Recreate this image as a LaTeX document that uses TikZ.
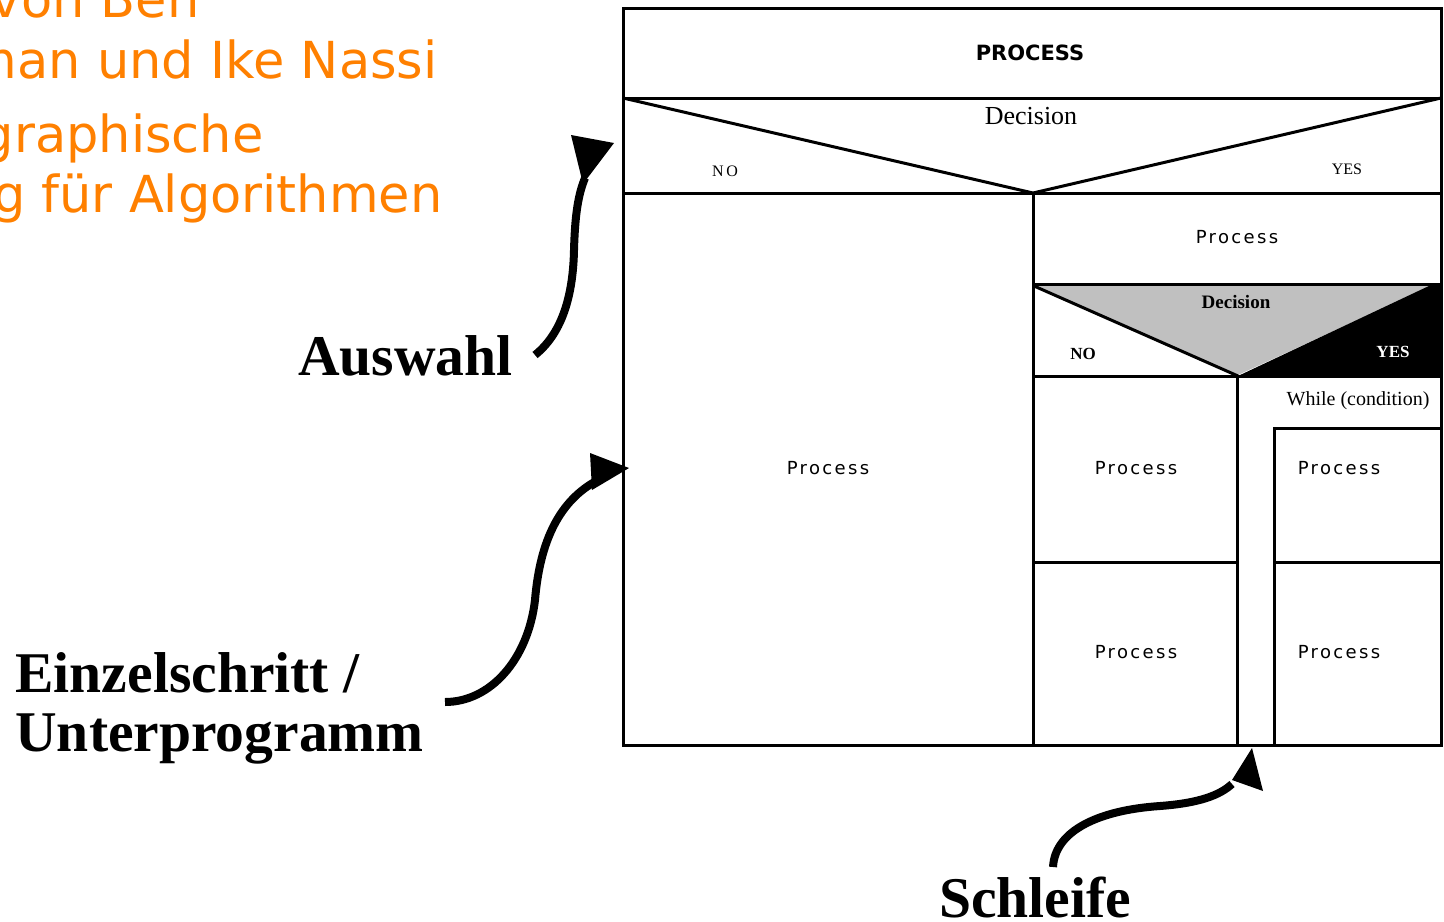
\documentclass[tikz,border=0pt]{standalone}
\usepackage{fontspec}
\setmainfont{Liberation Serif}
\newfontfamily\vfont{DejaVu Sans}
\newfontfamily\pfont[LetterSpace=13]{DejaVu Sans}
\newfontfamily\bsfont{DejaVu Sans}
\definecolor{nsorange}{RGB}{255,128,0}
\definecolor{nsgrey}{RGB}{192,192,192}
\begin{document}
\begin{tikzpicture}[x=0.5pt,y=-0.5pt,
  grid/.style={line width=1.5pt,line join=miter},
  head/.style={text=nsorange,font=\vfont\fontsize{25.5pt}{31pt}\selectfont,inner sep=0pt,anchor=base east},
  lbl/.style={font=\bfseries\fontsize{28.8pt}{33pt}\selectfont,inner sep=0pt},
  proc/.style={font=\pfont\fontsize{9pt}{11pt}\selectfont,inner sep=0pt},
  shaft/.style={line width=4pt,line cap=butt},
  tip/.style={fill=black,draw=none}]
\useasboundingbox (0,0) rectangle (1444,921);
\clip (0,0) rectangle (1444,921);

% title lines, running off the left edge
\node[head] (t1) at (200,18) {von Ben};
\node[head] (t2) at (438,78) {man und Ike Nassi};
\node[head] (t3) at (264,152) {graphische};
\node[head] (t4) at (443,212) {g für Algorithmen};

% structogram frame
\draw[grid] (623,8) rectangle (1441,745);
\draw[grid] (623,98) -- (1441,98);
\draw[grid] (623,193) -- (1441,193);
\draw[grid] (623,98) -- (1033,193) -- (1441,98);
\draw[grid] (1033,193) -- (1033,745);
\draw[grid] (1033,284) -- (1441,284);
% inner decision with shaded triangle
\fill[nsgrey] (1034,286) -- (1431,286) -- (1238,375) -- cycle;
\fill[black] (1431,285) -- (1441,285) -- (1441,376) -- (1238,376) -- cycle;
\draw[grid] (1034,286) -- (1238,376);
\draw[grid] (1033,376) -- (1441,376);
\draw[grid] (1237,376) -- (1237,745);
\draw[grid] (1033,562) -- (1237,562);
% while loop body
\draw[grid] (1441,428) -- (1274,428) -- (1274,745);
\draw[grid] (1274,562) -- (1441,562);

% texts of the structogram
\node[font=\bsfont\bfseries\fontsize{10.5pt}{12pt}\selectfont] (pr) at (1030,53) {PROCESS};
\node[font=\fontsize{13pt}{15pt}\selectfont] (d1) at (1031,116) {Decision};
\node[font=\fontsize{8pt}{10pt}\selectfont] (n1) at (725,171) {N\,O};
\node[font=\fontsize{8pt}{10pt}\selectfont] (y1) at (1347,169) {YES};
\node[proc] (p1) at (1237,237) {Process};
\node[font=\bfseries\fontsize{9.5pt}{11pt}\selectfont] (d2) at (1236,302) {Decision};
\node[font=\bfseries\fontsize{8.5pt}{10pt}\selectfont] (n2) at (1083,354) {NO};
\node[font=\bfseries\fontsize{8.5pt}{10pt}\selectfont,text=white] (y2) at (1393,352) {YES};
\node[font=\fontsize{10pt}{12pt}\selectfont] (wh) at (1358,401) {While (condition)};
\node[proc] (p2) at (828,468) {Process};
\node[proc] (p3) at (1136,468) {Process};
\node[proc] (p4) at (1339,468) {Process};
\node[proc] (p5) at (1136,652) {Process};
\node[proc] (p6) at (1339,652) {Process};

% annotation labels
\node[lbl,anchor=base east] (aus) at (513,375) {Auswahl};
\node[lbl,anchor=base west] (ein) at (15,692) {Einzelschritt /};
\node[lbl,anchor=base west] (unt) at (15,751) {Unterprogramm};
\node[lbl,anchor=base] (sch) at (1035,917) {Schleife};

% curved pointers
\coordinate (a0) at (535,355);
\coordinate (a1) at (585,178);
\coordinate (b0) at (445,702);
\coordinate (b1) at (598,480);
\coordinate (c0) at (1053,867);
\coordinate (c1) at (1232,784);

\draw[shaft] (a0) .. controls (560,335) and (573,300) .. (574,250)
  .. controls (575,215) and (578,195) .. (a1);
\fill[tip] (571,135) -- (614,143) -- (583,184) -- cycle;

\draw[shaft] (b0) .. controls (490,702) and (528,660) .. (535,600)
  .. controls (540,540) and (560,500) .. (b1);
\fill[tip] (590,453) -- (629,468) -- (592,490) -- cycle;

\draw[shaft] (c0) .. controls (1055,830) and (1100,810) .. (1160,806)
  .. controls (1200,803) and (1220,795) .. (c1);
\fill[tip] (1252,748) -- (1263,791) -- (1232,780) -- cycle;
\end{tikzpicture}
\end{document}
